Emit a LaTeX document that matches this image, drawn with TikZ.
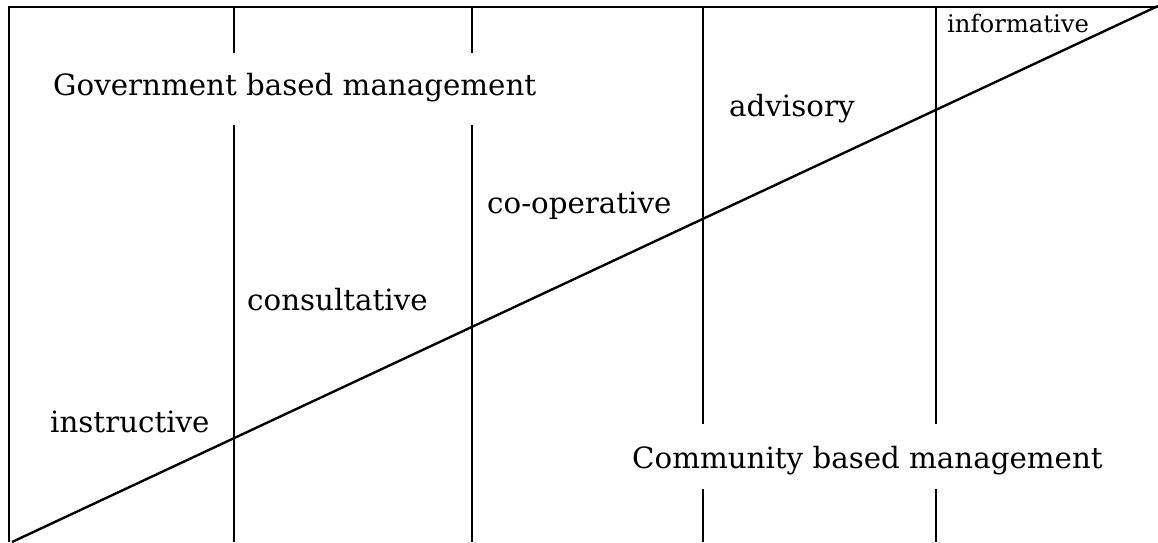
\documentclass[tikz,border=0pt]{standalone}
\usepackage{fontspec}
\setmainfont{DejaVu Serif}
\begin{document}
\begin{tikzpicture}[x=1pt,y=-1pt,
  ln/.style={line width=2.4pt,line cap=butt},
  lbl/.style={anchor=base west,inner sep=0pt,font=\fontsize{29.3}{34}\selectfont},
  slbl/.style={anchor=base west,inner sep=0pt,font=\fontsize{24.3}{28}\selectfont}]
\useasboundingbox (0,0) rectangle (1158,542);
% frame: top and left edges
\draw[ln] (1158,7) -- (9,7) -- (9,542);
% diagonal
\draw[ln] (12,542) -- (1158,6);
% vertical dividers
\draw[ln] (234,7) -- (234,53);
\draw[ln] (234,125) -- (234,542);
\draw[ln] (472,7) -- (472,53);
\draw[ln] (472,125) -- (472,542);
\draw[ln] (703,7) -- (703,424);
\draw[ln] (703,489) -- (703,542);
\draw[ln] (936,7) -- (936,424);
\draw[ln] (936,489) -- (936,542);
% labels
\node[lbl] (gov) at (53,95) {Government based management};
\node[slbl] (inf) at (947,32) {informative};
\node[lbl] (adv) at (729,116) {advisory};
\node[lbl] (coop) at (487,213) {co-operative};
\node[lbl] (cons) at (247,310) {consultative};
\node[lbl] (instr) at (50,432) {instructive};
\node[lbl] (comm) at (632,468) {Community based management};
\end{tikzpicture}
\end{document}
